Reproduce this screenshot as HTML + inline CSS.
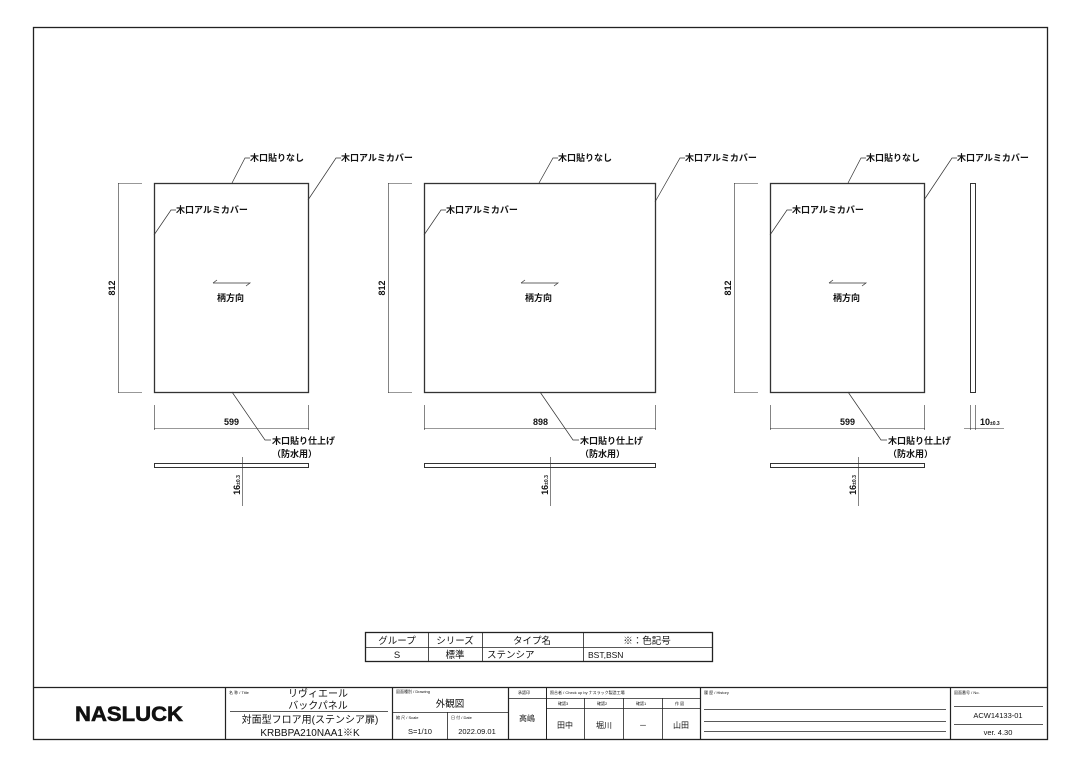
<!DOCTYPE html>
<html><head><meta charset="utf-8"><style>
html,body{margin:0;padding:0;background:#fff}
svg{display:block}
text{font-family:"Liberation Sans","Noto Sans CJK JP",sans-serif;fill:#111}
.b{font-weight:bold}
</style></head><body>
<svg width="1080" height="764" viewBox="0 0 1080 764" xmlns="http://www.w3.org/2000/svg">
<rect x="33.5" y="27.5" width="1014" height="712" fill="none" stroke="#222" stroke-width="1.3"/>

<g stroke="#333" fill="none" stroke-width="1">
<!-- panel 1 -->
<rect x="154.5" y="183.5" width="154" height="209" stroke-width="1.3"/>
<line x1="118" y1="183.5" x2="142" y2="183.5" stroke-width=".6"/>
<line x1="118" y1="392.5" x2="142" y2="392.5" stroke-width=".6"/>
<line x1="118.5" y1="183" x2="118.5" y2="393" stroke-width=".6"/>
<line x1="154.5" y1="405" x2="154.5" y2="430" stroke-width=".6"/>
<line x1="308.5" y1="405" x2="308.5" y2="430" stroke-width=".6"/>
<line x1="154" y1="428.5" x2="309" y2="428.5" stroke-width=".6"/>
<polyline points="232,183 245,158 250,158" stroke-width=".7"/>
<polyline points="308,200 336,158 341,158" stroke-width=".7"/>
<polyline points="154,235 171,210 176,210" stroke-width=".7"/>
<polyline points="232,392 265,440 271,440" stroke-width=".7"/>
<rect x="154.5" y="463.5" width="154" height="4"/>
<line x1="242.5" y1="457" x2="242.5" y2="506" stroke-width=".6"/>
<polyline points="213,283 250,283 246,286" stroke-width=".7"/>
<polyline points="217,280 213,283" stroke-width=".7"/>

<!-- panel 2 -->
<rect x="424.5" y="183.5" width="231" height="209" stroke-width="1.3"/>
<line x1="388" y1="183.5" x2="412" y2="183.5" stroke-width=".6"/>
<line x1="388" y1="392.5" x2="412" y2="392.5" stroke-width=".6"/>
<line x1="388.5" y1="183" x2="388.5" y2="393" stroke-width=".6"/>
<line x1="424.5" y1="405" x2="424.5" y2="430" stroke-width=".6"/>
<line x1="655.5" y1="405" x2="655.5" y2="430" stroke-width=".6"/>
<line x1="424" y1="428.5" x2="656" y2="428.5" stroke-width=".6"/>
<polyline points="539,183 553,158 558,158" stroke-width=".7"/>
<polyline points="655,202 680,158 685,158" stroke-width=".7"/>
<polyline points="424,235 441,210 446,210" stroke-width=".7"/>
<polyline points="540,392 573,440 579,440" stroke-width=".7"/>
<rect x="424.5" y="463.5" width="231" height="4"/>
<line x1="550.5" y1="457" x2="550.5" y2="506" stroke-width=".6"/>
<polyline points="521,283 558,283 554,286" stroke-width=".7"/>
<polyline points="525,280 521,283" stroke-width=".7"/>

<!-- panel 3 -->
<rect x="770.5" y="183.5" width="154" height="209" stroke-width="1.3"/>
<line x1="734" y1="183.5" x2="758" y2="183.5" stroke-width=".6"/>
<line x1="734" y1="392.5" x2="758" y2="392.5" stroke-width=".6"/>
<line x1="734.5" y1="183" x2="734.5" y2="393" stroke-width=".6"/>
<line x1="770.5" y1="405" x2="770.5" y2="430" stroke-width=".6"/>
<line x1="924.5" y1="405" x2="924.5" y2="430" stroke-width=".6"/>
<line x1="770" y1="428.5" x2="925" y2="428.5" stroke-width=".6"/>
<polyline points="848,183 861,158 866,158" stroke-width=".7"/>
<polyline points="924,200 952,158 957,158" stroke-width=".7"/>
<polyline points="770,235 787,210 792,210" stroke-width=".7"/>
<polyline points="848,392 881,440 887,440" stroke-width=".7"/>
<rect x="770.5" y="463.5" width="154" height="4"/>
<line x1="858.5" y1="457" x2="858.5" y2="506" stroke-width=".6"/>
<polyline points="829,283 866,283 862,286" stroke-width=".7"/>
<polyline points="833,280 829,283" stroke-width=".7"/>

<!-- side view -->
<rect x="970.5" y="183.5" width="5" height="209"/>
<line x1="970.5" y1="405" x2="970.5" y2="430" stroke-width=".6"/>
<line x1="975.5" y1="405" x2="975.5" y2="430" stroke-width=".6"/>
<line x1="964" y1="428.5" x2="1004" y2="428.5" stroke-width=".6"/>
</g>

<g class="b" font-size="9">
<text x="250" y="161">木口貼りなし</text>
<text x="341" y="161">木口アルミカバー</text>
<text x="176" y="213">木口アルミカバー</text>
<text x="272" y="444">木口貼り仕上げ</text>
<text x="272" y="457">（防水用）</text>
<text x="217" y="301">柄方向</text>
<text x="558" y="161">木口貼りなし</text>
<text x="685" y="161">木口アルミカバー</text>
<text x="446" y="213">木口アルミカバー</text>
<text x="580" y="444">木口貼り仕上げ</text>
<text x="580" y="457">（防水用）</text>
<text x="525" y="301">柄方向</text>
<text x="866" y="161">木口貼りなし</text>
<text x="957" y="161">木口アルミカバー</text>
<text x="792" y="213">木口アルミカバー</text>
<text x="888" y="444">木口貼り仕上げ</text>
<text x="888" y="457">（防水用）</text>
<text x="833" y="301">柄方向</text>
</g>
<g font-size="9" class="b">
<text x="224" y="425">599</text>
<text x="533" y="425">898</text>
<text x="840" y="425">599</text>
<text x="980" y="425">10<tspan font-size="5">±0.3</tspan></text>
<text transform="translate(115,288) rotate(-90)" text-anchor="middle">812</text>
<text transform="translate(385,288) rotate(-90)" text-anchor="middle">812</text>
<text transform="translate(731,288) rotate(-90)" text-anchor="middle">812</text>
<text transform="translate(240,485) rotate(-90)" text-anchor="middle">16<tspan font-size="5">±0.3</tspan></text>
<text transform="translate(548,485) rotate(-90)" text-anchor="middle">16<tspan font-size="5">±0.3</tspan></text>
<text transform="translate(856,485) rotate(-90)" text-anchor="middle">16<tspan font-size="5">±0.3</tspan></text>
</g>

<!-- spec table -->
<g stroke="#222" fill="none">
<rect x="365.5" y="632.5" width="347" height="29" stroke-width="1.3"/>
<line x1="365" y1="647.5" x2="712" y2="647.5" stroke-width=".8"/>
<line x1="428.5" y1="632" x2="428.5" y2="661" stroke-width=".8"/>
<line x1="482.5" y1="632" x2="482.5" y2="661" stroke-width=".8"/>
<line x1="583.5" y1="632" x2="583.5" y2="661" stroke-width=".8"/>
</g>
<g font-size="9.5">
<text x="397" y="644" text-anchor="middle">グループ</text>
<text x="455" y="644" text-anchor="middle">シリーズ</text>
<text x="532" y="644" text-anchor="middle">タイプ名</text>
<text x="647" y="644" text-anchor="middle">※：色記号</text>
<text x="397" y="658" text-anchor="middle">S</text>
<text x="455" y="658" text-anchor="middle">標準</text>
<text x="487" y="658">ステンシア</text>
<text x="588" y="658" font-size="8.5">BST,BSN</text>
</g>

<!-- title block -->
<g stroke="#222" fill="none">
<line x1="33" y1="687.5" x2="1047" y2="687.5" stroke-width="1.3"/>
<line x1="225.5" y1="687" x2="225.5" y2="740" stroke-width="1.2"/>
<line x1="392.5" y1="687" x2="392.5" y2="740" stroke-width="1.2"/>
<line x1="508.5" y1="687" x2="508.5" y2="740" stroke-width="1.2"/>
<line x1="546.5" y1="687" x2="546.5" y2="740" stroke-width="1"/>
<line x1="700.5" y1="687" x2="700.5" y2="740" stroke-width="1.2"/>
<line x1="950.5" y1="687" x2="950.5" y2="740" stroke-width="1.2"/>
<line x1="230" y1="711.5" x2="388" y2="711.5" stroke-width=".8"/>
<line x1="392" y1="712.5" x2="508" y2="712.5" stroke-width=".8"/>
<line x1="447.5" y1="712" x2="447.5" y2="740" stroke-width=".8"/>
<line x1="508" y1="698.5" x2="700" y2="698.5" stroke-width=".8"/>
<line x1="546" y1="708.5" x2="700" y2="708.5" stroke-width=".8"/>
<line x1="584.5" y1="698" x2="584.5" y2="740" stroke-width=".8"/>
<line x1="623.5" y1="698" x2="623.5" y2="740" stroke-width=".8"/>
<line x1="662.5" y1="698" x2="662.5" y2="740" stroke-width=".8"/>
<line x1="704" y1="709.5" x2="946" y2="709.5" stroke-width=".7"/>
<line x1="704" y1="721.5" x2="946" y2="721.5" stroke-width=".7"/>
<line x1="704" y1="731.5" x2="946" y2="731.5" stroke-width=".7"/>
<line x1="954" y1="706.5" x2="1043" y2="706.5" stroke-width=".7"/>
<line x1="954" y1="724.5" x2="1043" y2="724.5" stroke-width=".7"/>
</g>
<text x="75" y="721" font-size="21" font-weight="bold" fill="#111" stroke="#111" stroke-width=".6" textLength="108" lengthAdjust="spacingAndGlyphs" style="font-family:'Liberation Sans',sans-serif">NASLUCK</text>
<g font-size="4" fill="#333">
<text x="229" y="694">名 称 / Title</text>
<text x="396" y="693">図面種別 / Drawing</text>
<text x="396" y="719">縮 尺 / Scale</text>
<text x="451" y="719">日 付 / Date</text>
<text x="518" y="694">承認印</text>
<text x="550" y="694">照合者 / Check up by ナスラック製造工場</text>
<text x="704" y="694">履 歴 / History</text>
<text x="954" y="694">図面番号 / No.</text>
<text x="558" y="705">確認3</text>
<text x="597" y="705">確認2</text>
<text x="636" y="705">確認1</text>
<text x="675" y="705">作 図</text>
</g>
<g font-size="10">
<text x="318" y="697" text-anchor="middle">リヴィエール</text>
<text x="318" y="709" text-anchor="middle">バックパネル</text>
<text x="310" y="723" text-anchor="middle">対面型フロア用(ステンシア扉)</text>
<text x="310" y="736" text-anchor="middle">KRBBPA210NAA1※K</text>
<text x="450" y="707" text-anchor="middle" font-size="9.5">外観図</text>
<text x="420" y="734" text-anchor="middle" font-size="7.5">S=1/10</text>
<text x="477" y="734" text-anchor="middle" font-size="7.5">2022.09.01</text>
<text x="527" y="721" text-anchor="middle" font-size="8">高嶋</text>
<text x="565" y="728" text-anchor="middle" font-size="8">田中</text>
<text x="604" y="728" text-anchor="middle" font-size="8">堀川</text>
<text x="643" y="728" text-anchor="middle" font-size="8">－</text>
<text x="681" y="728" text-anchor="middle" font-size="8">山田</text>
<text x="998" y="718" text-anchor="middle" font-size="7.5">ACW14133-01</text>
<text x="998" y="735" text-anchor="middle" font-size="7.5">ver. 4.30</text>
</g>
</svg>
</body></html>
